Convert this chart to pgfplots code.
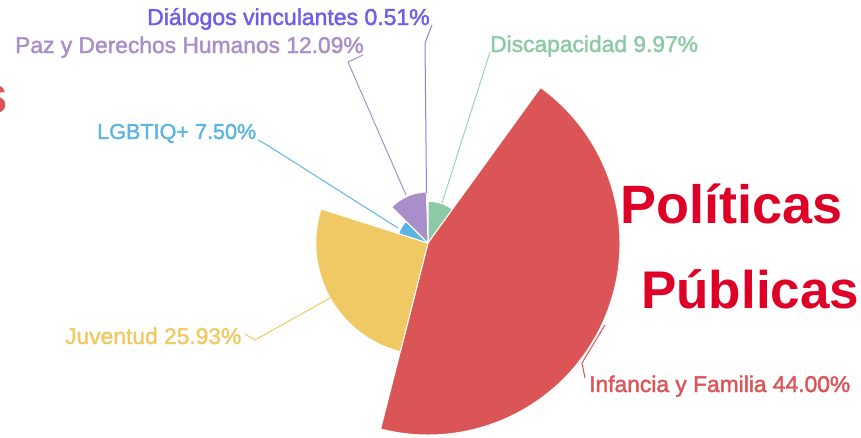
\documentclass[border=0pt]{standalone}
\usepackage{pgfplots}
\pgfplotsset{compat=1.18}
\usepackage{fontspec}
\setmainfont{Liberation Sans}
\newfontfamily\lab[FakeBold=1.8]{Liberation Sans}
\newfontfamily\ttl{Liberation Sans}
\definecolor{cGreen}{RGB}{141,201,165}
\definecolor{cRed}{RGB}{219,85,87}
\definecolor{cYellow}{RGB}{240,201,101}
\definecolor{cBlue}{RGB}{90,181,226}
\definecolor{cPurple}{RGB}{169,143,201}
\definecolor{cDia}{RGB}{110,94,232}
\definecolor{cTitle}{RGB}{222,0,38}
% sector: start %, end %, value, colour ; radius linear in value (min 0.51 -> 0, max 44 -> 192)
\newcommand\sector[4]{%
  \pgfmathsetmacro\ta{90-3.6*#1}%
  \pgfmathsetmacro\tb{90-3.6*#2}%
  \pgfmathsetmacro\rr{(#3-0.51)*4.4148}%
  \edef\doit{\noexpand\fill[#4, draw=white, line width=1pt, line join=round]
    (axis cs:428,243) -- ++(\ta:\rr pt) arc[start angle=\ta, end angle=\tb, radius=\rr pt] -- cycle;}%
  \doit}
\tikzset{lbl/.style={inner sep=0pt, font=\lab\fontsize{22.8}{27}\selectfont}}
\begin{document}
\begin{tikzpicture}
\begin{axis}[at={(0,0)}, anchor=south west, x=1pt, y=1pt,
  xmin=0, xmax=861, ymin=0, ymax=437, y dir=reverse, hide axis, clip=false]
\sector{0}{9.97}{9.97}{cGreen}
\sector{9.97}{53.97}{44.00}{cRed}
\sector{53.97}{79.90}{25.93}{cYellow}
\sector{79.90}{87.40}{7.50}{cBlue}
\sector{87.40}{99.49}{12.09}{cPurple}
% leader lines
\draw[cGreen!85!white, line width=1pt] (axis cs:442,203) -- (axis cs:490,52);
\draw[cRed, line width=1pt] (axis cs:605,325) -- (axis cs:582,363) -- (axis cs:585,378);
\draw[cYellow, line width=1pt] (axis cs:330,298) -- (axis cs:255,340) -- (axis cs:245,334);
\draw[cBlue, line width=1pt] (axis cs:398,228) -- (axis cs:267,145) -- (axis cs:258,140);
\draw[cPurple, line width=1pt] (axis cs:406,195) -- (axis cs:348,62) -- (axis cs:363,55);
\draw[cDia!80!white, line width=1pt] (axis cs:426.5,193) -- (axis cs:425,43) -- (axis cs:432,25);
% labels
\node[lbl, anchor=base west, text=cGreen] at (axis cs:490,52) {Discapacidad 9.97\%};
\node[lbl, anchor=base west, text=cRed] at (axis cs:589,392) {Infancia y Familia 44.00\%};
\node[lbl, anchor=base west, text=cYellow] at (axis cs:65,344) {Juventud 25.93\%};
\node[lbl, anchor=base west, text=cBlue, font=\lab\fontsize{21.6}{27}\selectfont] at (axis cs:97,139) {LGBTIQ+ 7.50\%};
\node[lbl, anchor=base west, text=cPurple] at (axis cs:15,53) {Paz y Derechos Humanos 12.09\%};
\node[lbl, anchor=base west, text=cDia, font=\lab\fontsize{23}{27}\selectfont] at (axis cs:147,25) {Diálogos vinculantes 0.51\%};
% title
\node[inner sep=0pt, anchor=base west, text=cTitle, font=\ttl\bfseries\fontsize{54}{60}\selectfont] at (axis cs:620,223) {Políticas};
\node[inner sep=0pt, anchor=base west, text=cTitle, font=\ttl\bfseries\fontsize{53}{60}\selectfont] at (axis cs:641,308) {Públicas};
\node[inner sep=0pt, anchor=base east, text=cRed, font=\ttl\bfseries\fontsize{53}{60}\selectfont] at (axis cs:8,113) {s};
\end{axis}
\pgfresetboundingbox
\path (0,0) rectangle (861pt,437pt);
\end{tikzpicture}
\end{document}
